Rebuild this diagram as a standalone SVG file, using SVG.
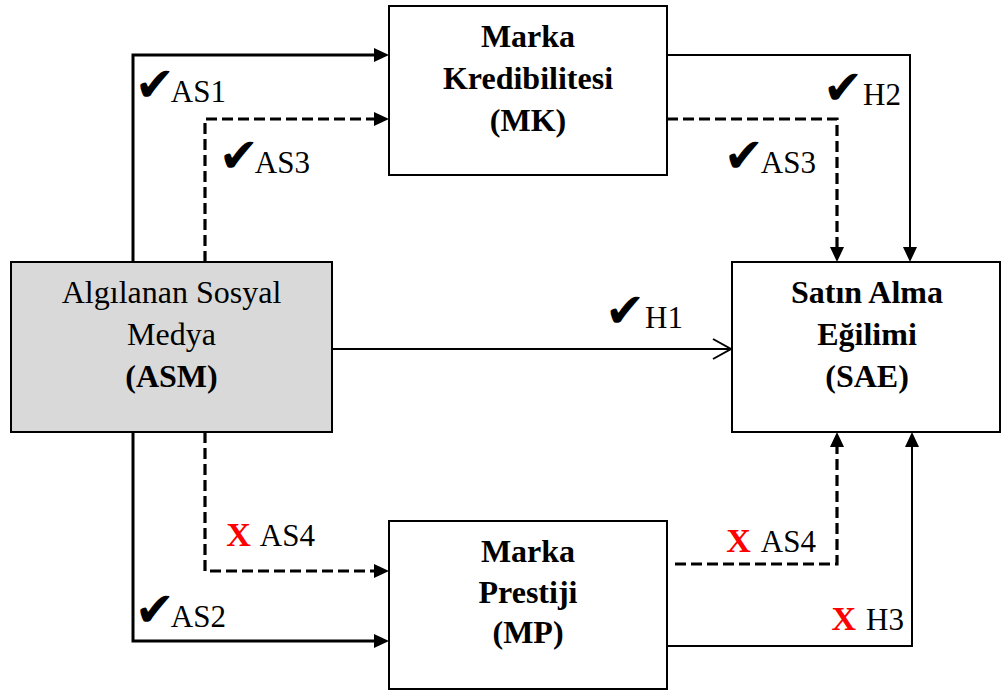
<svg xmlns="http://www.w3.org/2000/svg" width="1002" height="691" viewBox="0 0 1002 691">
  <style>
    .box { fill: #ffffff; stroke: #000000; stroke-width: 2; }
    .box.grey { fill: #d9d9d9; }
    .t { font-family: "Liberation Serif", "Times New Roman", serif; font-size: 32px; fill: #000000; text-anchor: middle; }
    .b { font-weight: bold; }
    .lab { font-family: "Liberation Serif", "Times New Roman", serif; font-size: 31px; fill: #000000; text-anchor: end; }
    .chk { font-family: "DejaVu Sans", sans-serif; font-size: 48px; }
    .no { font-size: 34px; font-weight: bold; fill: #ff0000; }
    .thick { fill: none; stroke: #000000; stroke-width: 3; }
    .thin { fill: none; stroke: #000000; stroke-width: 2; }
    .dash { fill: none; stroke: #000000; stroke-width: 3.2; stroke-dasharray: 11 5; }
  </style>
  <defs>
    <marker id="tri" markerUnits="userSpaceOnUse" markerWidth="16" markerHeight="14" viewBox="0 0 16 14" refX="5" refY="7" orient="auto">
      <path d="M0,0 L15,7 L0,14 z" fill="#000000"/>
    </marker>
    <marker id="open" markerUnits="userSpaceOnUse" markerWidth="22" markerHeight="24" viewBox="0 0 22 24" refX="19" refY="12" orient="auto">
      <path d="M1,2 L19,12 L1,22" fill="none" stroke="#000000" stroke-width="2"/>
    </marker>
  </defs>

  <!-- connectors -->
  <g id="connectors">
    <path class="thick" d="M133,262 V55 H379" marker-end="url(#tri)"/>
    <path class="dash" d="M205,262 V119 H379" marker-end="url(#tri)"/>
    <path class="thin" d="M667,55 H910 V252" marker-end="url(#tri)"/>
    <path class="dash" d="M667,119 H837 V252" marker-end="url(#tri)"/>
    <path class="thin" d="M332,349 H731" marker-end="url(#open)"/>
    <path class="dash" d="M205,432 V571 H379" marker-end="url(#tri)"/>
    <path class="thick" d="M133,432 V641 H379" marker-end="url(#tri)"/>
    <path class="dash" d="M675,564 H837 V442" marker-end="url(#tri)"/>
    <path class="thin" d="M667,646 H912 V442" marker-end="url(#tri)"/>

    <!-- path labels: verdict mark followed by hypothesis code (right-aligned) -->
    <text class="lab" x="226" y="102"><tspan class="chk" dy="-1">✔</tspan><tspan dx="-4" dy="1">AS1</tspan></text>
    <text class="lab" x="310" y="173"><tspan class="chk" dy="-1">✔</tspan><tspan dx="-4" dy="1">AS3</tspan></text>
    <text class="lab" x="901" y="105"><tspan class="chk" dy="-1">✔</tspan><tspan dx="0" dy="1">H2</tspan></text>
    <text class="lab" x="816" y="173"><tspan class="chk" dy="-1">✔</tspan><tspan dx="-3" dy="1">AS3</tspan></text>
    <text class="lab" x="683" y="328"><tspan class="chk" dy="-1">✔</tspan><tspan dx="0" dy="1">H1</tspan></text>
    <text class="lab" x="315" y="546"><tspan class="no">X</tspan><tspan dx="9">AS4</tspan></text>
    <text class="lab" x="226" y="627"><tspan class="chk" dy="-1">✔</tspan><tspan dx="-4" dy="1">AS2</tspan></text>
    <text class="lab" x="816" y="552"><tspan class="no">X</tspan><tspan dx="10">AS4</tspan></text>
    <text class="lab" x="904" y="630"><tspan class="no">X</tspan><tspan dx="10">H3</tspan></text>
  </g>

  <!-- nodes -->
  <g id="mk">
    <rect class="box" x="389" y="6" width="278" height="169"/>
    <text class="t b" x="528" y="47">Marka</text>
    <text class="t b" x="528" y="89">Kredibilitesi</text>
    <text class="t b" x="528" y="131">(MK)</text>
  </g>
  <g id="asm">
    <rect class="box grey" x="11" y="262" width="321" height="170"/>
    <text class="t" x="171.5" y="303">Algılanan Sosyal</text>
    <text class="t" x="171.5" y="345">Medya</text>
    <text class="t b" x="171.5" y="387">(ASM)</text>
  </g>
  <g id="sae">
    <rect class="box" x="732" y="262" width="268" height="170"/>
    <text class="t b" x="867" y="303">Satın Alma</text>
    <text class="t b" x="867" y="345">Eğilimi</text>
    <text class="t b" x="867" y="387">(SAE)</text>
  </g>
  <g id="mp">
    <rect class="box" x="389" y="521" width="278" height="168"/>
    <text class="t b" x="528" y="562">Marka</text>
    <text class="t b" x="528" y="603">Prestiji</text>
    <text class="t b" x="528" y="643">(MP)</text>
  </g>
</svg>
